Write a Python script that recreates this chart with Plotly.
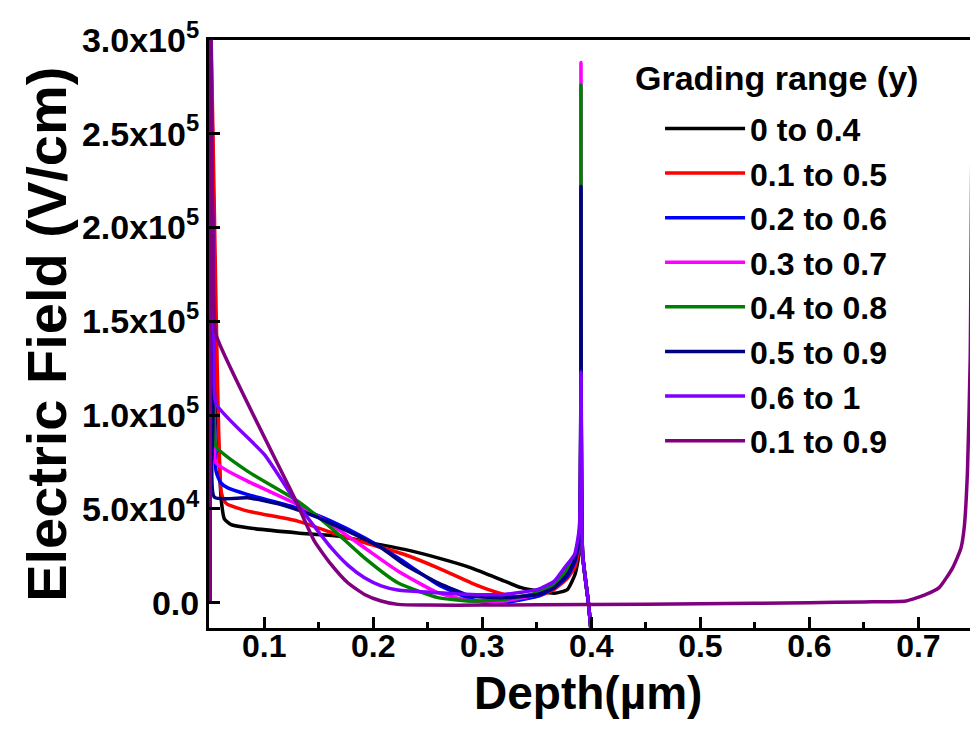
import plotly.graph_objects as go

# ---- data (depth in µm, field in V/cm) ----
names = ["0 to 0.4", "0.1 to 0.5", "0.2 to 0.6", "0.3 to 0.7",
         "0.4 to 0.8", "0.5 to 0.9", "0.6 to 1", "0.1 to 0.9"]
colors = ["#000000", "#FF0000", "#0000FF", "#FF00FF",
          "#008000", "#000080", "#8000FF", "#800080"]

x_black = [0.05, 0.0503, 0.056, 0.0605, 0.0635, 0.0696, 0.0849, 0.1307, 0.1674, 0.198, 0.2286, 0.2592, 0.2897, 0.3204, 0.3357, 0.3509, 0.366, 0.378, 0.385, 0.389, 0.3905, 0.392, 0.3973, 0.4005]
y_black = [0, 330000, 120000, 55000, 44500, 41600, 39900, 37200, 35500, 31900, 28400, 23900, 18600, 11500, 8000, 6200, 5000, 7000, 15000, 27000, 45000, 25700, 0, -20000]

x_red = [0.05, 0.0503, 0.056, 0.0604, 0.0635, 0.0665, 0.0849, 0.1307, 0.1674, 0.198, 0.2286, 0.2592, 0.2897, 0.305, 0.3204, 0.3357, 0.3509, 0.366, 0.378, 0.385, 0.389, 0.3905, 0.392, 0.3973, 0.4005]
y_red = [0, 330000, 150000, 59400, 54000, 52300, 48800, 43500, 36300, 31000, 25700, 18600, 10600, 7100, 4400, 2700, 3500, 7100, 13000, 19000, 30000, 100000, 25700, 0, -20000]

x_blue = [0.05, 0.0503, 0.054, 0.0558, 0.06, 0.0665, 0.0849, 0.1307, 0.1613, 0.1919, 0.2225, 0.2592, 0.2897, 0.305, 0.3204, 0.3509, 0.366, 0.378, 0.385, 0.389, 0.3905, 0.392, 0.3973, 0.4005]
y_blue = [0, 330000, 120000, 70000, 64000, 61200, 57600, 50500, 43500, 34600, 23900, 9700, 1800, 0, 0, 3500, 8000, 14000, 22000, 34000, 180000, 25700, 0, -20000]

x_magenta = [0.05, 0.0503, 0.054, 0.0558, 0.0849, 0.1307, 0.1613, 0.1919, 0.2225, 0.2592, 0.2897, 0.3204, 0.3509, 0.366, 0.378, 0.385, 0.389, 0.3905, 0.392, 0.3973, 0.4005]
y_magenta = [0, 330000, 100000, 74500, 64700, 52300, 41600, 29300, 16900, 5300, 900, 900, 4400, 8900, 16000, 24000, 36000, 288000, 25700, 0, -20000]

x_green = [0.05, 0.0503, 0.054, 0.0558, 0.0849, 0.1307, 0.1613, 0.1919, 0.2225, 0.2592, 0.2897, 0.3204, 0.3509, 0.366, 0.378, 0.385, 0.389, 0.3905, 0.392, 0.3973, 0.4005]
y_green = [0, 330000, 110000, 83300, 70000, 54100, 39900, 23900, 10600, 2700, 900, 1800, 5300, 9700, 18000, 25000, 38000, 276000, 25700, 0, -20000]

x_navy = [0.05, 0.0503, 0.053, 0.0543, 0.0849, 0.1154, 0.146, 0.1766, 0.2072, 0.2286, 0.2592, 0.2897, 0.3204, 0.3509, 0.366, 0.378, 0.385, 0.389, 0.3905, 0.392, 0.3973, 0.4005]
y_navy = [0, 330000, 100000, 56200, 55900, 52300, 46100, 38100, 29300, 20400, 10600, 3500, 2700, 4400, 8000, 15000, 23000, 35000, 222000, 25700, 0, -20000]

x_violet = [0.05, 0.0503, 0.054, 0.0558, 0.1002, 0.1307, 0.1613, 0.1766, 0.1919, 0.2072, 0.2225, 0.2592, 0.2897, 0.3204, 0.3509, 0.366, 0.3754, 0.3846, 0.389, 0.3905, 0.392, 0.3973, 0.4005]
y_violet = [0, 330000, 130000, 106000, 78900, 52300, 29300, 20000, 13300, 9000, 6800, 5300, 4400, 4400, 7100, 11500, 18600, 25700, 40000, 123000, 25700, 0, -20000]

x_purple = [0.05, 0.0503, 0.0535, 0.0558, 0.1277, 0.146, 0.1613, 0.1766, 0.1919, 0.2072, 0.2225, 0.25, 0.3, 0.4, 0.5, 0.6, 0.65, 0.6886, 0.707, 0.719, 0.7314, 0.739, 0.742, 0.745, 0.7475, 0.7494, 0.7505, 0.752, 0.7543, 0.7589, 0.7605]
y_purple = [0, 330000, 160000, 142700, 55900, 32800, 20400, 10600, 4400, 900, -900, -1300, -1300, -1000, -600, 0, 400, 900, 4400, 8000, 18600, 29000, 40000, 70000, 130000, 263000, 150000, 70000, 29000, -13300, -20000]

xs = [x_black, x_red, x_blue, x_magenta, x_green, x_navy, x_violet, x_purple]
ys = [y_black, y_red, y_blue, y_magenta, y_green, y_navy, y_violet, y_purple]

y_tickvals = [0, 50000, 100000, 150000, 200000, 250000, 300000]
y_ticktext = ["0.0", "5.0x10<sup>4</sup>", "1.0x10<sup>5</sup>", "1.5x10<sup>5</sup>",
              "2.0x10<sup>5</sup>", "2.5x10<sup>5</sup>", "3.0x10<sup>5</sup>"]
x_tickvals = [0.1, 0.2, 0.3, 0.4, 0.5, 0.6, 0.7]
x_ticktext = ["0.1", "0.2", "0.3", "0.4", "0.5", "0.6", "0.7"]

legend_title = "Grading range (y)"
x_title = "Depth(µm)"
y_title = "Electric Field (V/cm)"

FONT = "Liberation Sans, Arial, sans-serif"

fig = go.Figure()
for n, c, x, y in zip(names, colors, xs, ys):
    fig.add_trace(go.Scatter(x=x, y=y, mode="lines", name=n,
                             line=dict(color=c, width=3.5, shape="spline", smoothing=0.5)))

fig.update_layout(
    width=978, height=730,
    margin=dict(l=201, r=0, t=32, b=110),
    paper_bgcolor="white", plot_bgcolor="white",
    font=dict(family=FONT, color="black", size=30, weight="bold"),
    showlegend=True,
    legend=dict(
        x=0.5805, y=0.896, xanchor="left", yanchor="top",
        bgcolor="rgba(0,0,0,0)",
        font=dict(size=32, family=FONT, weight="bold"),
        itemwidth=80,
    ),
    xaxis=dict(
        range=[0.0493, 0.762], showgrid=False, zeroline=False,
        showline=True, linewidth=3, linecolor="black", mirror=True,
        ticks="inside", ticklen=11, tickwidth=3, tickcolor="black",
        tickvals=x_tickvals, ticktext=x_ticktext,
        tickfont=dict(size=32, family=FONT, weight="bold"),
        ticklabelstandoff=-12,
        minor=dict(ticks="inside", ticklen=6, tickwidth=3, dtick=0.05, tick0=0, tickcolor="black", showgrid=False),
    ),
    yaxis=dict(
        range=[-13500, 300000], showgrid=False, zeroline=False,
        showline=True, linewidth=3, linecolor="black", mirror=False,
        ticks="inside", ticklen=11, tickwidth=3, tickcolor="black",
        tickvals=y_tickvals, ticktext=y_ticktext,
        tickfont=dict(size=34, family=FONT, weight="bold"),
    ),
    annotations=[
        dict(text=legend_title, x=0.546, y=0.935, xref="paper", yref="paper",
             showarrow=False, xanchor="left", yanchor="middle",
             font=dict(size=34, family=FONT, weight="bold")),
        dict(text=x_title, x=0.488, y=-0.11, xref="paper", yref="paper",
             showarrow=False, xanchor="center", yanchor="middle",
             font=dict(size=46, family=FONT, weight="bold")),
        dict(text=y_title, x=-0.21, y=0.5, xref="paper", yref="paper",
             showarrow=False, xanchor="center", yanchor="middle", textangle=-90,
             font=dict(size=56, family=FONT, weight="bold")),
    ],
)

fig.write_html("out.html")
